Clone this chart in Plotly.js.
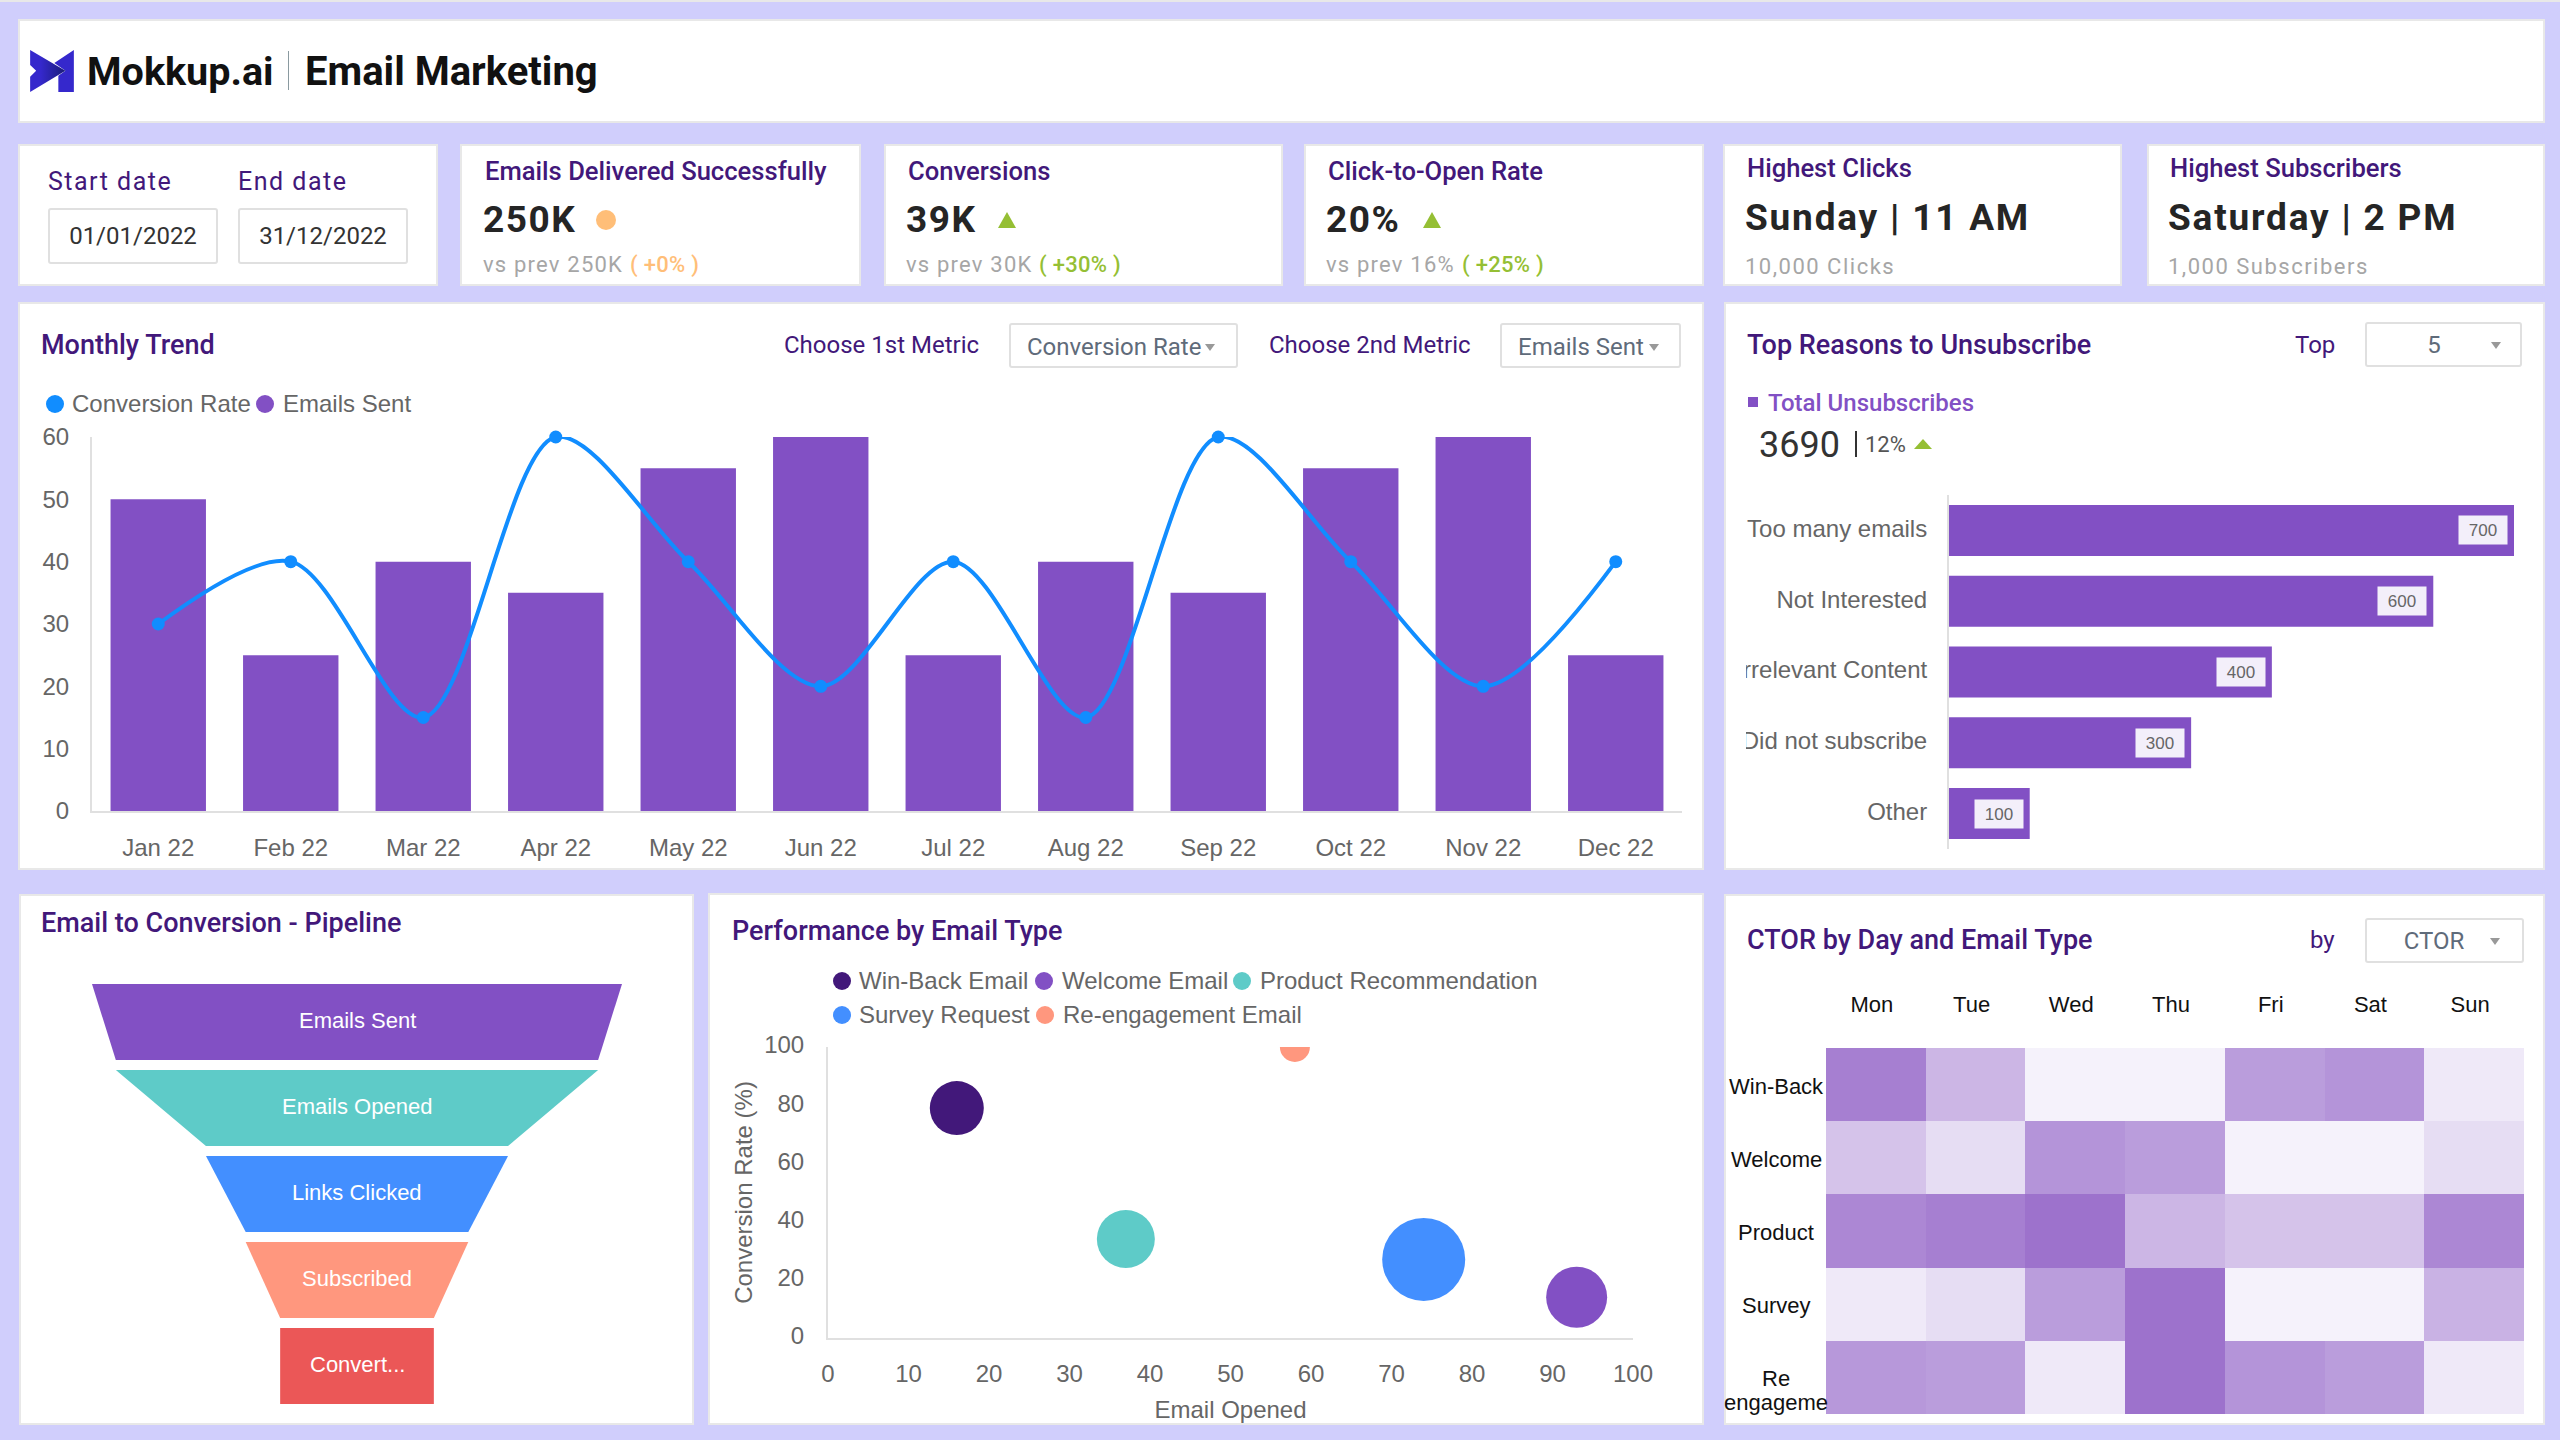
<!DOCTYPE html>
<html><head><meta charset="utf-8">
<script src="https://cdn.plot.ly/plotly-3.0.1.min.js"></script>
<style>
html,body{margin:0;padding:0;background:#D0CEFC;width:2560px;height:1440px;overflow:hidden;font-family:Roboto,sans-serif}
.a{position:absolute;white-space:nowrap;line-height:1}
.card{position:absolute;background:#fff;box-shadow:inset 0 0 0 2px #E8E8E8}
.plot{position:absolute}
.t{color:#42187A;font-weight:500;font-size:27px;transform:translateY(-50%)}
.t.k{font-size:25.6px}
.lbl{color:#42187A;font-size:24px;transform:translateY(-50%)}
.val{color:#252525;font-weight:700;font-size:37px;letter-spacing:1.5px;transform:translateY(-50%)}
.val.w{letter-spacing:1.8px}
.sub{color:#A6A6A6;font-size:22px;letter-spacing:1.2px;transform:translateY(-50%)}
.sub.w{letter-spacing:1.5px}
.pct{letter-spacing:.3px;font-weight:500}
.box{position:absolute;background:#fff;box-sizing:border-box;border:2px solid #E0E0E0;border-radius:3px}
.sel{color:#5F6B7A;font-size:24px;transform:translateY(-50%)}
.leg{color:#666;font-size:24px;font-family:"Liberation Sans";transform:translateY(-50%)}
.dot{position:absolute;border-radius:50%}
.tri{position:absolute;width:0;height:0;border-left:9px solid transparent;border-right:9px solid transparent;border-bottom:16px solid #95BF34}
.car{position:absolute;width:0;height:0;border-left:5.5px solid transparent;border-right:5.5px solid transparent;border-top:7px solid #999}
</style></head><body>
<div id="chrome"></div>
<div class="plot" id="trend"></div>
<div class="plot" id="reasons"></div>
<div class="plot" id="funnel"></div>
<div class="plot" id="bubble"></div>
<div class="plot" id="heat"></div>
<div id="over"></div>
<script>
// ---------- data ----------
const months = ['Jan 22','Feb 22','Mar 22','Apr 22','May 22','Jun 22','Jul 22','Aug 22','Sep 22','Oct 22','Nov 22','Dec 22'];
const emailsSent = [50,25,40,35,55,60,25,40,35,55,60,25];
const conversionRate = [30,40,15,60,40,20,40,15,60,40,20,40];

const reasonLabels = ['Too many emails','Not Interested','Irrelevant Content','Did not subscribe','Other'];
const reasonValues = [700,600,400,300,100];

const funnelLabels = ['Emails Sent','Emails Opened','Links Clicked','Subscribed','Convert...'];
const funnelValues = [100,91,57,42,29];

const bubbleNames = ['Win-Back Email','Welcome Email','Product Recommendation','Survey Request','Re-engagement Email'];
const bubbleOpened = [16,93,37,74,58];
const bubbleConversion = [79,14,34,27,100];
const bubbleWeight = [54,61,58,83,30];

const heatDays = ['Mon','Tue','Wed','Thu','Fri','Sat','Sun'];
const heatTypes = ['Win-Back','Welcome','Product','Survey','Re<br>engageme'];
const heatWinBack = [37,24,10,10,30,32,12];
const heatWelcome = [21,15,32,30,10,10,15];
const heatProduct = [35,37,40,24,21,21,35];
const heatSurvey  = [12,15,30,40,10,10,25];
const heatReEngage= [31,30,12,40,32,30,12];

// ---------- palette ----------
const PURPLE='#8250C4', TEAL='#5ECBC8', BLUE='#438FFF', SALMON='#FF977E', RED='#EB5757', DARK='#42187A', LINE='#118DFF';
const bubbleColors=[DARK,PURPLE,TEAL,BLUE,SALMON];
const funnelColors=[PURPLE,TEAL,BLUE,SALMON,RED];
const CH='"Liberation Sans", Arial, sans-serif';
const AX={color:'#666',family:CH,size:24};

// ---------- chrome ----------
const ch=document.getElementById('chrome');
function card(x0,y0,x1,y1){const d=document.createElement('div');d.className='card';d.style.cssText=`left:${x0}px;top:${y0}px;width:${x1-x0}px;height:${y1-y0}px`;ch.appendChild(d);}
function txt(cls,s,x,y,extra,parent){const d=document.createElement('div');d.className='a '+cls;d.textContent=s;d.style.left=x+'px';d.style.top=y+'px';if(extra)d.style.cssText+=';'+extra;(parent||ch).appendChild(d);return d;}
function box(x0,y0,x1,y1){const d=document.createElement('div');d.className='box';d.style.cssText=`left:${x0}px;top:${y0}px;width:${x1-x0}px;height:${y1-y0}px`;ch.appendChild(d);}
function dot(cx,cy,dia,c){const d=document.createElement('div');d.className='dot';d.style.cssText=`left:${cx-dia/2}px;top:${cy-dia/2}px;width:${dia}px;height:${dia}px;background:${c}`;ch.appendChild(d);}
function tri(x,y){const d=document.createElement('div');d.className='tri';d.style.cssText=`left:${x}px;top:${y}px`;ch.appendChild(d);}
function car(x,y){const d=document.createElement('div');d.className='car';d.style.cssText=`left:${x}px;top:${y}px`;ch.appendChild(d);}

const strip=document.createElement('div');strip.style.cssText='position:absolute;left:0;top:0;width:2560px;height:2px;background:#E8E8E8';ch.appendChild(strip);

card(18,19,2545,123);
card(18,144,438,286);card(460,144,861,286);card(884,144,1283,286);card(1304,144,1704,286);card(1723,144,2122,286);card(2147,144,2545,286);
card(18,302,1704,870);card(1724,302,2545,870);
card(19,894,694,1425);card(708,893,1704,1425);card(1724,894,2545,1425);

// header
ch.insertAdjacentHTML('beforeend',`<svg style="position:absolute;left:30px;top:50px" width="44" height="42" viewBox="0 0 43.4 41.7">
<defs><linearGradient id="lg" x1="0" x2="1" y1="0" y2="0"><stop offset="0.3" stop-color="#3528CC"/><stop offset="1" stop-color="#1A1C78"/></linearGradient></defs>
<polygon points="43.4,0 24,13 35,20.5 28,25.5 28,41.7 43.4,41.7" fill="#3528CC"/>
<polygon points="0,0 35,20.5 0,41.7 0,26.5 6,20.5 0,15" fill="url(#lg)"/></svg>`);
txt('', 'Mokkup.ai',87,72,'font-size:39.5px;font-weight:700;color:#111;transform:translateY(-50%)');
const sep=document.createElement('div');sep.style.cssText='position:absolute;left:288px;top:51px;width:1px;height:39px;background:#8A9AA0';ch.appendChild(sep);
txt('', 'Email Marketing',305,72,'font-size:40px;font-weight:700;color:#111;transform:translateY(-50%)');

// date card
txt('lbl','Start date',48,181,'letter-spacing:1.5px;font-size:25px');
txt('lbl','End date',238,181,'letter-spacing:1.5px;font-size:25px');
box(48,208,218,264);box(238,208,408,264);
txt('','01/01/2022',133,236,'font-size:24px;color:#333;transform:translate(-50%,-50%)');
txt('','31/12/2022',323,236,'font-size:24px;color:#333;transform:translate(-50%,-50%)');

// KPI cards
txt('t k','Emails Delivered Successfully',485,172);
txt('val','250K',483,219);dot(606,220,20,'#FFBE78');
txt('sub','vs prev 250K',483,265);txt('sub pct','( +0% )',630,265,'color:#FFBE78');

txt('t k','Conversions',908,172);
txt('val','39K',906,219);tri(998,212);
txt('sub','vs prev 30K',906,265);txt('sub pct','( +30% )',1039,265,'color:#95BF34');

txt('t k','Click-to-Open Rate',1328,172);
txt('val','20%',1326,219);tri(1423,212);
txt('sub','vs prev 16%',1326,265);txt('sub pct','( +25% )',1462,265,'color:#95BF34');

txt('t k','Highest Clicks',1747,169);
txt('val w','Sunday | 11 AM',1745,217);
txt('sub w','10,000 Clicks',1745,267);

txt('t k','Highest Subscribers',2170,169);
txt('val w','Saturday | 2 PM',2168,217);
txt('sub w','1,000 Subscribers',2168,267);

// monthly panel
txt('t','Monthly Trend',41,345);
txt('lbl','Choose 1st Metric',784,345);
box(1009,323,1238,368);txt('sel','Conversion Rate',1027,347);car(1205,344);
txt('lbl','Choose 2nd Metric',1269,345);
box(1500,323,1681,368);txt('sel','Emails Sent',1518,347);car(1649,344);
dot(55,404,18,LINE);txt('leg','Conversion Rate',72,404);
dot(265,404,18,PURPLE);txt('leg','Emails Sent',283,404);

// reasons panel
txt('t','Top Reasons to Unsubscribe',1747,345);
txt('lbl','Top',2295,345);
box(2365,322,2522,367);txt('sel','5',2434,345,'transform:translate(-50%,-50%)');car(2491,342);
const sq=document.createElement('div');sq.style.cssText=`position:absolute;left:1748px;top:397px;width:10px;height:10px;background:${PURPLE}`;ch.appendChild(sq);
txt('','Total Unsubscribes',1768,403,`font-size:24px;font-weight:500;color:${PURPLE};transform:translateY(-50%)`);
txt('','3690',1759,445,'font-size:36px;color:#333;transform:translateY(-50%)');
const bar=document.createElement('div');bar.style.cssText='position:absolute;left:1855px;top:431px;width:2px;height:26px;background:#333';ch.appendChild(bar);
txt('','12%',1865,445,'font-size:22px;color:#555;transform:translateY(-50%)');
const t2=document.createElement('div');t2.className='tri';t2.style.cssText='left:1914px;top:439px;border-bottom-width:10px';ch.appendChild(t2);

// lower titles
txt('t','Email to Conversion - Pipeline',41,923);
txt('t','Performance by Email Type',732,931);
txt('t','CTOR by Day and Email Type',1747,940);
txt('lbl','by',2310,940);
box(2365,918,2524,963);txt('sel','CTOR',2434,941,'transform:translate(-50%,-50%)');car(2490,938);

// bubble legend built from the series names
const legendSpots=[[842,859,981],[1044,1062,981],[1242,1260,981],[842,859,1015],[1045,1063,1015]];
bubbleNames.forEach((n,i)=>{const p=legendSpots[i];dot(p[0],p[2],18,bubbleColors[i]);txt('leg',n,p[1],p[2]);});

// ---------- plots ----------
const cfg={staticPlot:true,displayModeBar:false,responsive:false};
function frame(id,cx0,cy0,cx1,cy1,px0,py0,px1,py1){
  const d=document.getElementById(id);
  d.style.cssText=`left:${cx0}px;top:${cy0}px;width:${cx1-cx0}px;height:${cy1-cy0}px`;
  return {width:cx1-cx0,height:cy1-cy0,margin:{l:px0-cx0,r:cx1-px1,t:py0-cy0,b:cy1-py1,pad:0,autoexpand:false},paper_bgcolor:'rgba(0,0,0,0)',plot_bgcolor:'rgba(0,0,0,0)',showlegend:false,font:AX};
}

// monthly combo
Plotly.newPlot('trend',[
 {type:'bar',name:'Emails Sent',x:months,y:emailsSent,marker:{color:PURPLE},width:0.72},
 {type:'scatter',name:'Conversion Rate',x:months,y:conversionRate,mode:'lines+markers',cliponaxis:false,
  line:{color:LINE,width:4,shape:'spline',smoothing:0.9},marker:{color:LINE,size:13}}
],Object.assign(frame('trend',20,415,1700,885,92,437,1682,811),{
 bargap:0.28,
 xaxis:{type:'category',range:[-0.5,11.5],showgrid:false,zeroline:false,showline:true,linecolor:'#E0E0E0',linewidth:2,ticks:'',ticklabelstandoff:14,tickfont:AX},
 yaxis:{range:[0,60],tickvals:[0,10,20,30,40,50,60],showgrid:false,zeroline:false,showline:true,linecolor:'#E0E0E0',linewidth:2,ticks:'',ticklabelstandoff:16,tickfont:AX}
}),cfg);

// reasons bars
Plotly.newPlot('reasons',[
 {type:'bar',orientation:'h',y:reasonLabels,x:reasonValues,marker:{color:PURPLE}}
],Object.assign(frame('reasons',1727,480,2540,860,1949,495,2514,849),{
 bargap:0.28,
 xaxis:{range:[0,700],visible:false},
 yaxis:{type:'category',autorange:'reversed',showgrid:false,zeroline:false,showline:true,linecolor:'#E0E0E0',linewidth:2,ticks:'',ticklabelstandoff:15,ticklabelshift:2,tickfont:AX},
 annotations:reasonValues.map((v,i)=>({xref:'x',yref:'y',x:v,y:reasonLabels[i],text:String(v),showarrow:false,xanchor:'right',xshift:-6,yshift:0,width:46,height:26,bgcolor:'#F3EFFA',font:{family:CH,size:17,color:'#666'}}))
}),cfg);

// funnel: each stage spans its own value down to the next stage's value
const stageH=76/86;
const funnelTraces=funnelValues.map((v,i)=>{
  const n=i<funnelValues.length-1?funnelValues[i+1]:v;
  return {type:'scatter',mode:'lines',x:[-v/2,v/2,n/2,-n/2,-v/2],y:[i,i,i+stageH,i+stageH,i],fill:'toself',fillcolor:funnelColors[i],line:{width:0},hoverinfo:'skip'};
});
Plotly.newPlot('funnel',funnelTraces,Object.assign(frame('funnel',30,970,680,1415,92,984,622,1404),{
 xaxis:{range:[-50,50],visible:false},
 yaxis:{range:[4+stageH,0],visible:false},
 annotations:funnelLabels.map((t,i)=>({xref:'x',yref:'y',x:0,y:i+stageH/2-0.02,text:t,showarrow:false,font:{family:CH,size:22,color:'#fff'}}))
}),cfg);

// bubbles
Plotly.newPlot('bubble',bubbleNames.map((n,i)=>({type:'scatter',mode:'markers',name:n,x:[bubbleOpened[i]],y:[bubbleConversion[i]],marker:{size:[bubbleWeight[i]],sizemode:'diameter',sizeref:1,color:bubbleColors[i],line:{width:0},opacity:1}})),
 Object.assign(frame('bubble',715,1020,1700,1423,828,1047,1633,1338),{
 xaxis:{range:[0,100],dtick:10,showgrid:false,zeroline:false,showline:true,linecolor:'#E0E0E0',linewidth:2,ticks:'',ticklabelstandoff:13,tickfont:AX,title:{text:'Email Opened',font:AX,standoff:17}},
 yaxis:{range:[0,100],dtick:20,showgrid:false,zeroline:false,showline:true,linecolor:'#E0E0E0',linewidth:2,ticks:'',ticklabelstandoff:17,ticklabelshift:-2,tickfont:AX,title:{text:'Conversion Rate (%)',font:AX,standoff:5}}
}),cfg);

// heatmap: the wrapped last label is laid out one line per annotation
const heatAnn=[];
heatTypes.forEach((t,i)=>{
  const lines=t.split('<br>');
  lines.forEach((ln,j)=>heatAnn.push({xref:'paper',yref:'y',x:(1776-1826)/698,y:t,yshift:lines.length>1?(j?-25:-1):-1.5,text:ln,showarrow:false,xanchor:'center',align:'center',font:{family:CH,size:22,color:'#111'}}));
});
Plotly.newPlot('heat',[{type:'heatmap',x:heatDays,y:heatTypes,z:[heatWinBack,heatWelcome,heatProduct,heatSurvey,heatReEngage],zmin:10,zmax:40,showscale:false,colorscale:[[0,'#F5F2FB'],[1,'#9D72CC']],hoverinfo:'skip'}],
 Object.assign(frame('heat',1710,985,2540,1423,1826,1048,2524,1414),{
 xaxis:{side:'top',type:'category',showgrid:false,zeroline:false,showline:false,ticks:'',ticklabelstandoff:31,ticklabelshift:-4,tickfont:{family:CH,size:22,color:'#111'}},
 yaxis:{type:'category',autorange:'reversed',showticklabels:false,showgrid:false,zeroline:false,showline:false,ticks:''},
 annotations:heatAnn
}),cfg);

// panel edge that trims the long category labels of the reasons bars
const ov=document.getElementById('over');
ov.innerHTML='<div style="position:absolute;left:1727px;top:495px;width:19px;height:360px;background:#fff"></div>';
</script></body></html>
